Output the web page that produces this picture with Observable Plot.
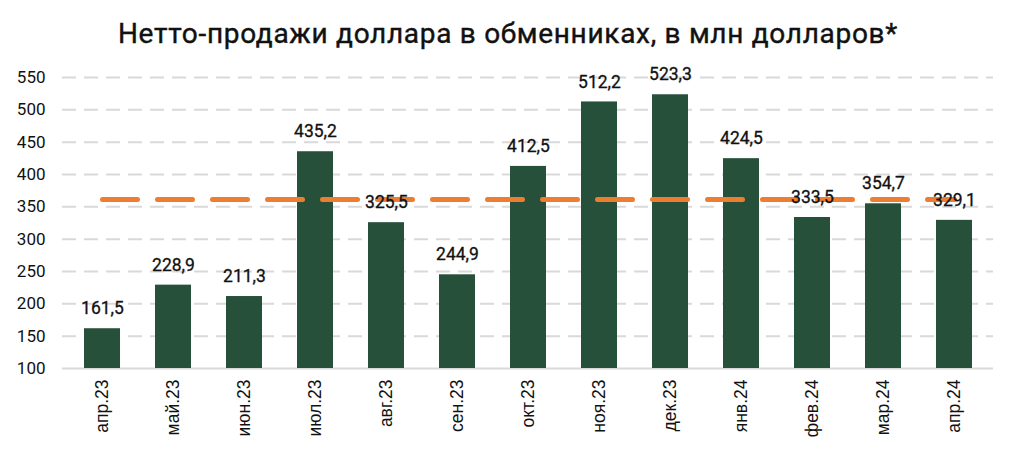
<!DOCTYPE html>
<html>
<head>
<meta charset="utf-8">
<script src="https://cdn.jsdelivr.net/npm/d3@7"></script>
<script src="https://cdn.jsdelivr.net/npm/@observablehq/plot@0.6"></script>
<style>
  body { margin: 0; background: #fff; width: 1016px; height: 454px; overflow: hidden; font-family: Roboto, "Noto Sans", sans-serif; }
  #title { height: 43px; padding-top: 17px; text-align: center; font-size: 28px; line-height: 34px; font-weight: 400; color: #111; letter-spacing: 0.7px; -webkit-text-stroke: 0.4px #111; }
</style>
</head>
<body>
<div id="title">Нетто-продажи доллара в обменниках, в млн долларов*</div>
<div id="chart"></div>
<script>
const months = ["апр.23","май.23","июн.23","июл.23","авг.23","сен.23","окт.23","ноя.23","дек.23","янв.24","фев.24","мар.24","апр.24"];
const values = [161.5, 228.9, 211.3, 435.2, 325.5, 244.9, 412.5, 512.2, 523.3, 424.5, 333.5, 354.7, 329.1];
const averageValue = 361.3;
const yTicks = [100,150,200,250,300,350,400,450,500,550];

const data = months.map((m, i) => ({month: m, value: values[i]}));
const fmt = v => v.toFixed(1).replace(".", ",");
const avgData = [{month: months[0], value: averageValue}, {month: months[months.length-1], value: averageValue}];

const chart = Plot.plot({
  width: 1016,
  height: 394,
  marginTop: 17,
  marginBottom: 86,
  marginLeft: 62,
  marginRight: 23,
  style: {fontFamily: "Roboto, sans-serif", fontSize: "16px", color: "#111", background: "#fff"},
  x: {domain: months, paddingInner: 0.5, paddingOuter: 0.25, label: null},
  y: {domain: [100, 550], ticks: yTicks, label: null},
  marks: [
    Plot.gridY(yTicks.filter(t => t > 100), {stroke: "#d9d9d9", strokeOpacity: 1, strokeWidth: 2, strokeDasharray: "14,8"}),
    Plot.ruleY([100], {stroke: "#d9d9d9", strokeWidth: 2}),
    Plot.barY(data, {x: "month", y1: 100, y2: "value", fill: "#27503a"}),
    Plot.line(avgData, {x: "month", y: "value", stroke: "#ed7d31", strokeWidth: 5, strokeDasharray: "35,20", strokeLinecap: "round"}),
    Plot.text(data, {x: "month", y: "value", text: d => fmt(d.value), dy: -20, fontSize: 17.5, fontWeight: 400, fill: "#111", stroke: "#111", strokeWidth: 0.3}),
    Plot.axisY({ticks: yTicks, tickSize: 0, tickPadding: 17, fontSize: 17, fontWeight: 400, tickFormat: d => String(d), stroke: "#111", strokeWidth: 0.2}),
    Plot.axisX({tickSize: 0, tickRotate: -90, tickPadding: 11, fontSize: 17.5, fontWeight: 400, fontFamily: "'Liberation Sans', Arial, sans-serif"})
  ]
});
document.getElementById("chart").appendChild(chart);
</script>
</body>
</html>
